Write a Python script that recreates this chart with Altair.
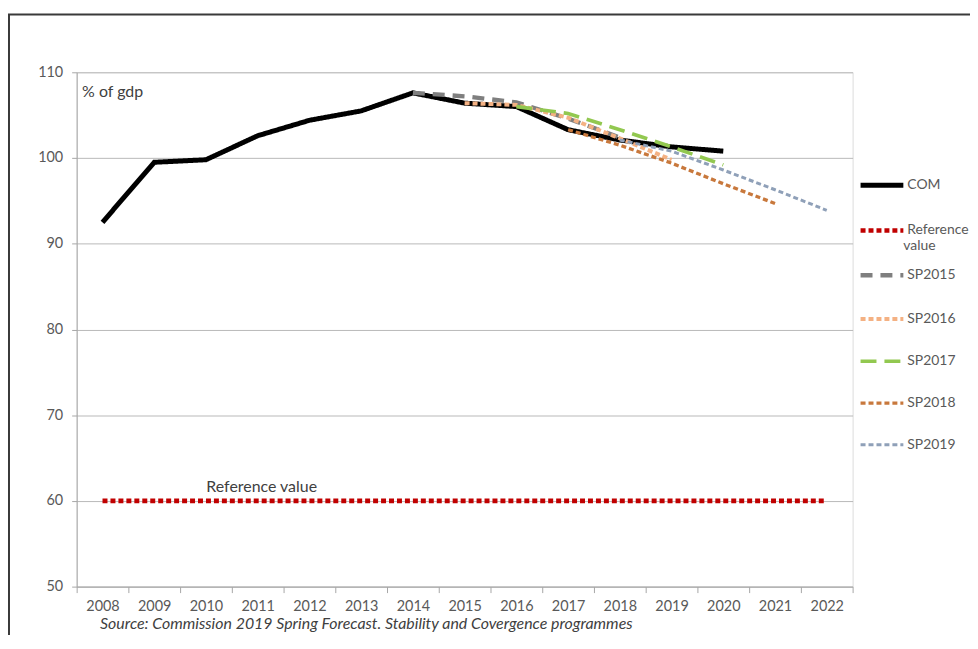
import altair as alt
import pandas as pd

years = [str(y) for y in range(2008, 2023)]

series_names = ["COM", "Reference value", "SP2015", "SP2016", "SP2017", "SP2018", "SP2019"]
series_colors = ["#000000", "#c00000", "#7f7f7f", "#f4b183", "#92c850", "#c8783c", "#8fa0b8"]
series_dash = [[1, 0], [5, 3], [12, 8], [5, 3], [16, 8], [5, 3], [5, 3]]
series_width = [5, 3, 3, 3, 3.5, 3, 3]

com_years = ["2008", "2009", "2010", "2011", "2012", "2013", "2014", "2015", "2016", "2017", "2018", "2019", "2020"]
com_vals = [92.5, 99.5, 99.8, 102.6, 104.4, 105.5, 107.6, 106.4, 106.0, 103.3, 102.1, 101.3, 100.8]

ref_years = years
ref_vals = [60, 60, 60, 60, 60, 60, 60, 60, 60, 60, 60, 60, 60, 60, 60]

sp2015_years = ["2014", "2015", "2016", "2017", "2018"]
sp2015_vals = [107.6, 107.2, 106.5, 104.6, 102.4]

sp2016_years = ["2015", "2016", "2017", "2018", "2019"]
sp2016_vals = [106.4, 106.2, 104.7, 102.3, 99.8]

sp2017_years = ["2016", "2017", "2018", "2019", "2020"]
sp2017_vals = [106.0, 105.2, 103.3, 101.3, 99.2]

sp2018_years = ["2017", "2018", "2019", "2020", "2021"]
sp2018_vals = [103.3, 101.5, 99.4, 97.0, 94.7]

sp2019_years = ["2018", "2019", "2020", "2021", "2022"]
sp2019_vals = [102.1, 100.8, 98.6, 96.3, 93.9]

y_ticks = [50, 60, 70, 80, 90, 100, 110]

rows = []
for name, ys, vs in [
    ("COM", com_years, com_vals),
    ("Reference value", ref_years, ref_vals),
    ("SP2015", sp2015_years, sp2015_vals),
    ("SP2016", sp2016_years, sp2016_vals),
    ("SP2017", sp2017_years, sp2017_vals),
    ("SP2018", sp2018_years, sp2018_vals),
    ("SP2019", sp2019_years, sp2019_vals),
]:
    for i, (yr, v) in enumerate(zip(ys, vs)):
        rows.append({"series": name, "year": yr, "value": v, "idx": i})
df = pd.DataFrame(rows)

FONT = "Lato"
LABEL_COLOR = "#595959"

x_enc = alt.X(
    "year:O",
    bandPosition=0.5,
    scale=alt.Scale(type="band", domain=years, paddingInner=0, paddingOuter=0),
    axis=alt.Axis(
        title="Source: Commission 2019 Spring Forecast. Stability and Covergence programmes",
        titleFontStyle="italic",
        titleFontWeight="normal",
        titleFont=FONT,
        titleFontSize=16,
        titleColor="#404040",
        titleAnchor="start",
        titleAlign="left",
        titleBaseline="middle",
        titleX=23,
        titleY=37,
        labelAngle=0,
        labelFont=FONT,
        labelFontSize=14.5,
        labelColor=LABEL_COLOR,
        labelPadding=7,
        tickBand="extent",
        tickSize=6,
        tickColor="#a6a6a6",
        domainColor="#a6a6a6",
        grid=False,
    ),
)

y_enc = alt.Y(
    "value:Q",
    scale=alt.Scale(domain=[50, 110], nice=False, zero=False),
    axis=alt.Axis(
        values=y_ticks,
        title="% of gdp",
        titleAngle=0,
        titleAlign="left",
        titleBaseline="middle",
        titleX=5,
        titleY=19,
        titleFont=FONT,
        titleFontSize=16,
        titleFontWeight="normal",
        titleColor="#404040",
        labelFont=FONT,
        labelFontSize=14.5,
        labelColor=LABEL_COLOR,
        labelPadding=9,
        tickSize=5,
        tickColor="#a6a6a6",
        domainColor="#a6a6a6",
        grid=True,
        gridColor="#b8b8b8",
        gridWidth=1,
    ),
)

lines = alt.Chart(df).mark_line(clip=False).encode(
    x=x_enc,
    y=y_enc,
    color=alt.Color(
        "series:N",
        scale=alt.Scale(domain=series_names, range=series_colors),
        legend=alt.Legend(
            title=None,
            orient="none",
            legendX=785,
            legendY=89,
            symbolType="stroke",
            symbolSize=1850,
            labelFont=FONT,
            labelFontSize=14,
            labelColor=LABEL_COLOR,
            labelOffset=1,
            rowPadding=11,
            padding=0,
            labelLimit=200,
            labelExpr="datum.label == 'Reference value' ? 'Reference' : datum.label",
        ),
    ),
    strokeDash=alt.StrokeDash(
        "series:N",
        scale=alt.Scale(domain=series_names, range=series_dash),
        legend=None,
    ),
    strokeWidth=alt.StrokeWidth(
        "series:N",
        scale=alt.Scale(domain=series_names, range=series_width),
        legend=None,
    ),
    order="idx:Q",
)

ref_label_df = pd.DataFrame({"year": ["2011"], "value": [61.6], "text": ["Reference value"]})
ref_label = alt.Chart(ref_label_df).mark_text(
    font=FONT, fontSize=16, color="#404040", baseline="middle", align="center", dx=4
).encode(
    x=alt.X("year:O", bandPosition=0.5),
    y="value:Q",
    text="text:N",
)

# second line of the wrapped legend label "Reference value"
legend_wrap = alt.Chart(pd.DataFrame({"t": ["value"]})).mark_text(
    font=FONT, fontSize=14, color=LABEL_COLOR, baseline="middle", align="left"
).encode(x=alt.value(831), y=alt.value(175), text="t:N")

frame_df = pd.DataFrame({"k": [0]})
frame_top = alt.Chart(frame_df).mark_rule(color="#3a3a3a", strokeWidth=2, clip=False).encode(
    x=alt.value(-70), x2=alt.value(900), y=alt.value(-58)
)
frame_left = alt.Chart(frame_df).mark_rule(color="#3a3a3a", strokeWidth=2, clip=False).encode(
    x=alt.value(-68), y=alt.value(-58), y2=alt.value(600)
)

chart = alt.layer(lines, ref_label, legend_wrap, frame_top, frame_left).properties(
    width=780,
    height=517,
    autosize=alt.AutoSizeParams(type="none"),
    padding={"left": 69, "top": 63, "right": 118, "bottom": 47},
).configure_view(stroke=None).configure(background="white")

chart.save("out.html", embed_options={"renderer": "svg", "actions": False})
